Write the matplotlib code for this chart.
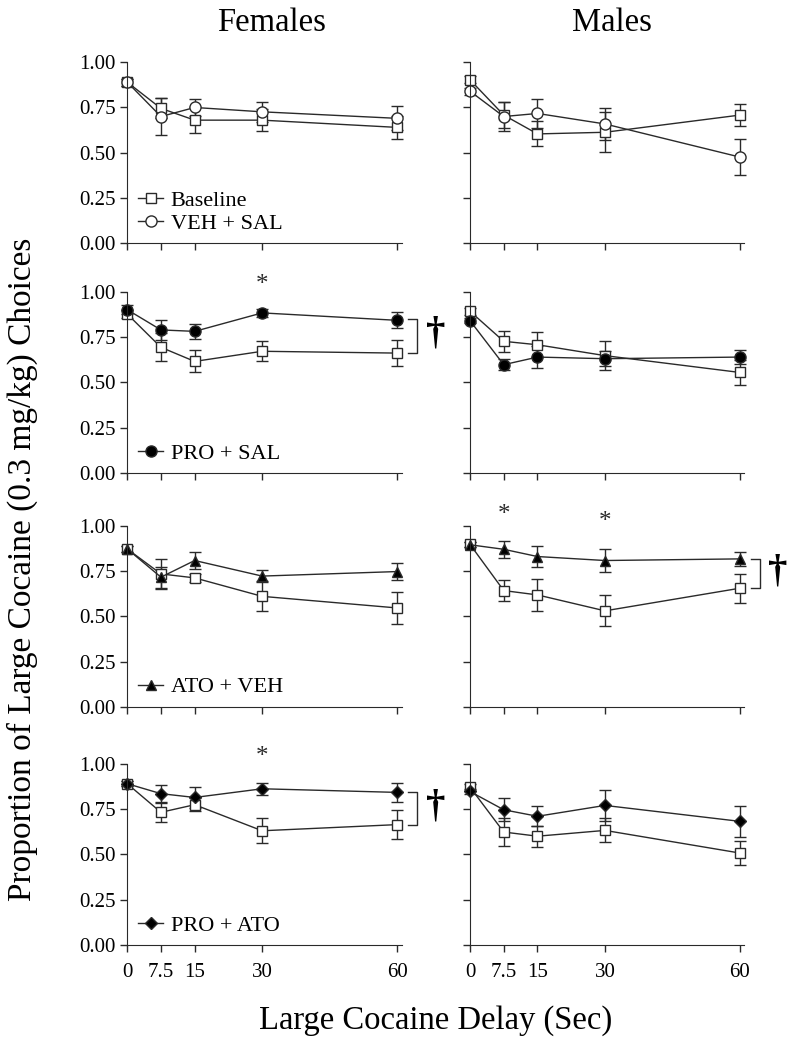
import matplotlib
matplotlib.use("Agg")
import matplotlib.pyplot as plt
from matplotlib.lines import Line2D

plt.rcParams['font.family'] = ['Liberation Serif', 'DejaVu Serif']

delays = [0, 7.5, 15, 30, 60]
tick_labels = ["0", "7.5", "15", "30", "60"]

# --- Females ---
f_base1 = [0.89, 0.745, 0.68, 0.68, 0.64]
f_base1_err = [0.02, 0.055, 0.07, 0.06, 0.065]
f_vehsal = [0.89, 0.70, 0.75, 0.726, 0.69]
f_vehsal_err = [0.02, 0.10, 0.045, 0.055, 0.067]

f_base2 = [0.878, 0.694, 0.616, 0.672, 0.662]
f_base2_err = [0.02, 0.078, 0.061, 0.055, 0.071]
f_prosal = [0.902, 0.79, 0.782, 0.884, 0.843]
f_prosal_err = [0.025, 0.057, 0.04, 0.02, 0.044]

f_base3 = [0.872, 0.734, 0.712, 0.61, 0.546]
f_base3_err = [0.015, 0.085, 0.02, 0.083, 0.087]
f_atoveh = [0.872, 0.716, 0.808, 0.722, 0.747]
f_atoveh_err = [0.015, 0.058, 0.049, 0.034, 0.047]

f_base4 = [0.89, 0.732, 0.774, 0.63, 0.664]
f_base4_err = [0.015, 0.055, 0.037, 0.07, 0.078]
f_proato = [0.89, 0.835, 0.814, 0.862, 0.842]
f_proato_err = [0.015, 0.049, 0.057, 0.032, 0.051]

# --- Males ---
m_base1 = [0.903, 0.708, 0.604, 0.613, 0.708]
m_base1_err = [0.02, 0.07, 0.069, 0.11, 0.06]
m_vehsal = [0.84, 0.70, 0.717, 0.659, 0.476]
m_vehsal_err = [0.02, 0.08, 0.079, 0.086, 0.10]

m_base2 = [0.893, 0.727, 0.708, 0.648, 0.555]
m_base2_err = [0.02, 0.057, 0.069, 0.08, 0.067]
m_prosal = [0.841, 0.598, 0.64, 0.631, 0.64]
m_prosal_err = [0.015, 0.03, 0.06, 0.04, 0.037]

m_base3 = [0.897, 0.642, 0.618, 0.53, 0.655]
m_base3_err = [0.015, 0.057, 0.087, 0.086, 0.079]
m_atoveh = [0.895, 0.87, 0.83, 0.808, 0.817]
m_atoveh_err = [0.015, 0.048, 0.058, 0.066, 0.037]

m_base4 = [0.871, 0.623, 0.60, 0.632, 0.507]
m_base4_err = [0.02, 0.077, 0.057, 0.066, 0.065]
m_proato = [0.847, 0.746, 0.71, 0.77, 0.682]
m_proato_err = [0.015, 0.064, 0.056, 0.087, 0.087]

rows = [
    ("VEH + SAL", "o", "white", f_base1, f_base1_err, f_vehsal, f_vehsal_err,
     m_base1, m_base1_err, m_vehsal, m_vehsal_err),
    ("PRO + SAL", "o", "black", f_base2, f_base2_err, f_prosal, f_prosal_err,
     m_base2, m_base2_err, m_prosal, m_prosal_err),
    ("ATO + VEH", "^", "black", f_base3, f_base3_err, f_atoveh, f_atoveh_err,
     m_base3, m_base3_err, m_atoveh, m_atoveh_err),
    ("PRO + ATO", "D", "black", f_base4, f_base4_err, f_proato, f_proato_err,
     m_base4, m_base4_err, m_proato, m_proato_err),
]

# significance marks
stars = {(1, 0): [(30, 1.04)], (2, 1): [(7.5, 1.06), (30, 1.02)], (3, 0): [(30, 1.04)]}
brackets = {(1, 0): (0.662, 0.85), (2, 1): (0.656, 0.817), (3, 0): (0.664, 0.842)}

line_col = "#2a2a2a"
fig = plt.figure(figsize=(8, 10.44), dpi=100)

bottoms = [0.767, 0.547, 0.323, 0.095]
lefts = [0.159, 0.5875]
h = 0.1734
w = 0.343

msizes = {"o": 8, "^": 7, "D": 6}

for r, (name, mk, fc, fb, fbe, ft, fte, mb, mbe, mt, mte) in enumerate(rows):
    for c in range(2):
        ax = fig.add_axes([lefts[c], bottoms[r], w, h])
        if c == 0:
            base, base_e, tr, tr_e = fb, fbe, ft, fte
        else:
            base, base_e, tr, tr_e = mb, mbe, mt, mte

        series = [("Baseline", "s", "white", base, base_e, 7.5),
                  (name, mk, fc, tr, tr_e, msizes[mk])]
        handles = {}
        for lab, m, f, y, e, ms in series:
            cont = ax.errorbar(delays, y, yerr=e, color=line_col, marker=m,
                               markerfacecolor=f, markeredgecolor=line_col,
                               markersize=ms, markeredgewidth=1.0, linewidth=1.0,
                               elinewidth=1.0, capsize=4, capthick=1.0,
                               clip_on=False)
            for art in cont.get_children():
                art.set_clip_on(False)
            handles[lab] = Line2D([], [], color=line_col, marker=m,
                                  markerfacecolor=f, markeredgecolor=line_col,
                                  markersize=ms, linewidth=1.0)

        ax.set_xlim(0, 61)
        ax.set_ylim(0, 1)
        ax.spines['top'].set_visible(False)
        ax.spines['right'].set_visible(False)
        ax.spines['left'].set_color(line_col)
        ax.spines['bottom'].set_color(line_col)
        ax.set_yticks([0, 0.25, 0.5, 0.75, 1.0])
        ax.set_xticks(delays)
        ax.tick_params(direction='out', length=5, width=1, colors=line_col,
                       labelsize=15, labelcolor='black')
        if c == 0:
            ax.set_yticklabels(["0.00", "0.25", "0.50", "0.75", "1.00"])
        else:
            ax.set_yticklabels([])
        if r == 3:
            ax.set_xticklabels(tick_labels)
            ax.tick_params(axis='x', pad=8)
        else:
            ax.set_xticklabels([])

        if c == 0:
            if r == 0:
                hl = [handles["Baseline"], handles[name]]
                ll = ["Baseline", name]
            else:
                hl = [handles[name]]
                ll = [name]
            ax.legend(hl, ll, loc='lower left', frameon=False, fontsize=16,
                      handlelength=1.1, handletextpad=0.35, labelspacing=0.1,
                      borderaxespad=0.1, bbox_to_anchor=(0.0, -0.01))

        for (xs, ys) in stars.get((r, c), []):
            ax.text(xs, ys, "*", ha='center', va='center', fontsize=18,
                    color=line_col, clip_on=False)
        if (r, c) in brackets:
            lo, hi = brackets[(r, c)]
            ax.plot([62.5, 64.5, 64.5, 62.5], [hi, hi, lo, lo], color=line_col,
                    linewidth=1.0, clip_on=False)
            ax.text(68.5, (lo + hi) / 2 + 0.01, "†", ha='center', va='center',
                    fontsize=28, fontweight='bold', clip_on=False)

fig.text(0.34, 0.978, "Females", ha='center', va='center', fontsize=23.5)
fig.text(0.765, 0.978, "Males", ha='center', va='center', fontsize=23.5)
fig.text(0.028, 0.455, "Proportion of Large Cocaine (0.3 mg/kg) Choices",
         rotation=90, ha='center', va='center', fontsize=24)
fig.text(0.545, 0.022, "Large Cocaine Delay (Sec)", ha='center', va='center',
         fontsize=23.5)

fig.savefig("out.png", dpi=100, facecolor='white')
